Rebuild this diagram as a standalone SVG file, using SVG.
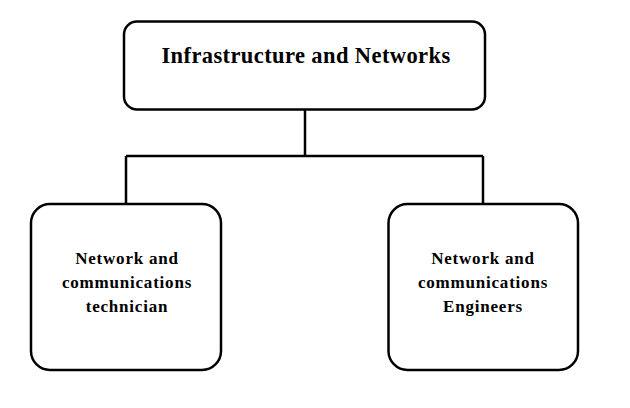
<svg xmlns="http://www.w3.org/2000/svg" width="630" height="408" viewBox="0 0 630 408">
<style>
.box{fill:#fff;stroke:#000;stroke-width:2.5}
.ln{fill:none;stroke:#000;stroke-width:2.5}
.t{font-family:"Liberation Serif","Times New Roman",serif;font-weight:bold;fill:#000;text-anchor:middle}
.big{font-size:22.5px;letter-spacing:0.4px}
.sm{font-size:17px;letter-spacing:0.8px}
</style>
<rect width="630" height="408" fill="#fff"/>
<g id="connectors">
<path class="ln" d="M305 110 V156 M126 156 H483 M126 156 V205 M483 156 V205"/>
</g>
<g id="node-top">
<rect class="box" x="124" y="21.5" width="361" height="88" rx="13"/>
<text class="t big" x="306" y="63">Infrastructure and Networks</text>
</g>
<g id="node-left">
<rect class="box" x="31" y="204" width="190" height="166" rx="19"/>
<text class="t sm" x="127" y="263.5">Network and</text>
<text class="t sm" x="127" y="287.5">communications</text>
<text class="t sm" x="127" y="311.5">technician</text>
</g>
<g id="node-right">
<rect class="box" x="388.5" y="204" width="189.5" height="166" rx="19"/>
<text class="t sm" x="483" y="263.5">Network and</text>
<text class="t sm" x="483" y="287.5">communications</text>
<text class="t sm" x="483" y="311.5">Engineers</text>
</g>
</svg>
